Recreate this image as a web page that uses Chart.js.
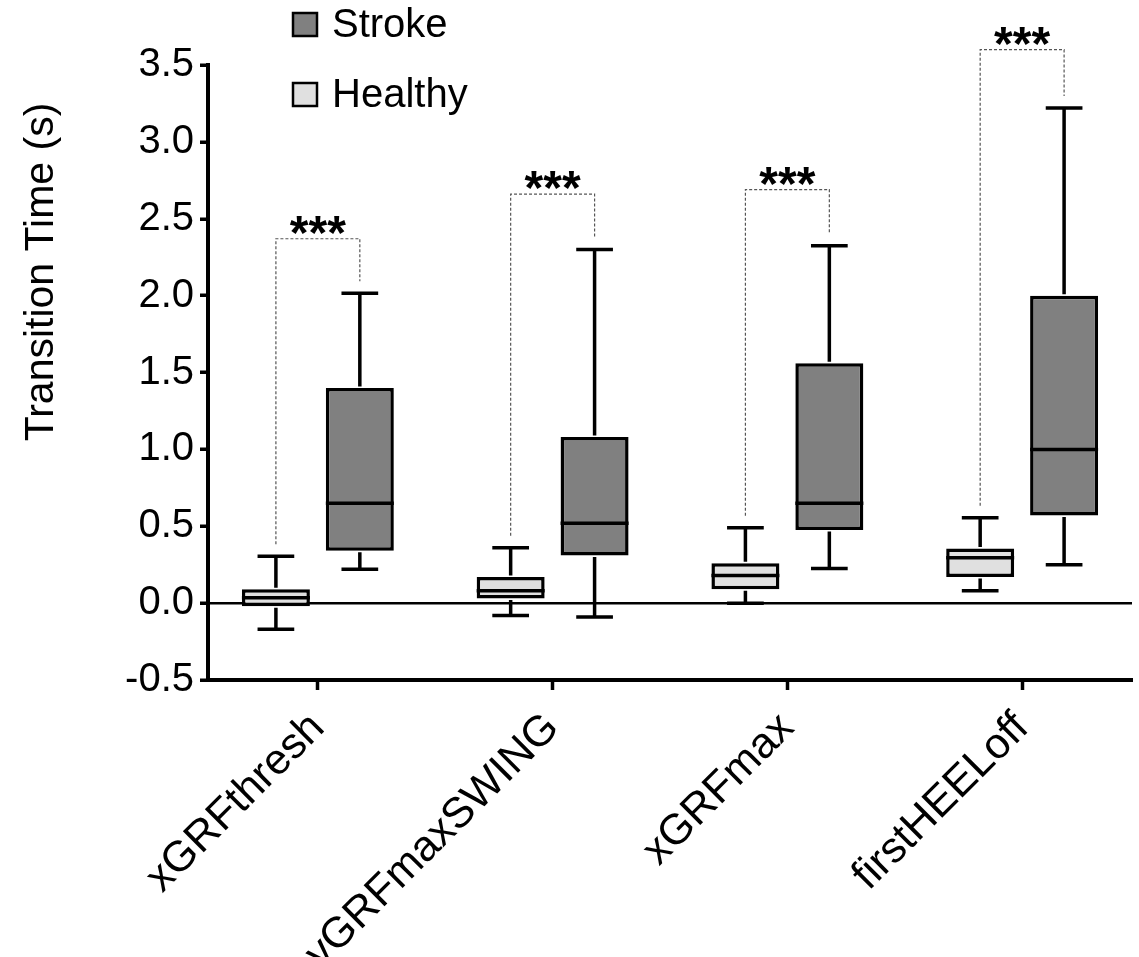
<!DOCTYPE html>
<html>
<head>
<meta charset="utf-8">
<title>Transition Time box plot</title>
<script src="https://cdn.jsdelivr.net/npm/chart.js@4.4.1/dist/chart.umd.min.js"></script>
<style>
  html, body { margin: 0; padding: 0; background: #fff; }
  #wrap { position: relative; width: 1139px; height: 957px; }
</style>
</head>
<body>
<div id="wrap"><canvas id="chart"></canvas></div>
<script>
// categories on the x axis
const categories = ['xGRFthresh', 'vGRFmaxSWING', 'xGRFmax', 'firstHEELoff'];

// Healthy group: whisker ends, quartiles and median (s)
const healthyMin    = [-0.17, -0.08, 0.00, 0.08];
const healthyQ1     = [-0.02,  0.03, 0.09, 0.17];
const healthyMedian = [0.035,  0.08, 0.18, 0.295];
const healthyQ3     = [0.09,   0.17, 0.26, 0.355];
const healthyMax    = [0.305,  0.36, 0.49, 0.555];

// Stroke group
const strokeMin    = [0.22, -0.09, 0.225, 0.25];
const strokeQ1     = [0.34,  0.31, 0.475, 0.57];
const strokeMedian = [0.65,  0.52, 0.65,  1.00];
const strokeQ3     = [1.40,  1.08, 1.56,  2.00];
const strokeMax    = [2.015, 2.30, 2.325, 3.22];

// significance brackets (height of the bracket, label)
const sigTop   = [2.37, 2.66, 2.69, 3.60];
const sigLabel = ['***', '***', '***', '***'];

// y axis ticks
const yMin = -0.5, yMax = 3.5, yStep = 0.5;

const FONT = '"Liberation Sans", Arial, Helvetica, sans-serif';

// whiskers, medians and caps on top of the floating bars
const boxPlot = {
  id: 'boxPlot',
  afterDatasetsDraw(chart) {
    const { ctx } = chart;
    const y = chart.scales.y;
    chart.data.datasets.forEach((ds, di) => {
      const meta = chart.getDatasetMeta(di);
      meta.data.forEach((bar, i) => {
        const half = bar.width / 2;
        const cap = bar.width * 0.27;
        const pMin = y.getPixelForValue(ds.lo[i]);
        const pMax = y.getPixelForValue(ds.hi[i]);
        const pQ1 = y.getPixelForValue(ds.data[i].y[0]);
        const pQ3 = y.getPixelForValue(ds.data[i].y[1]);
        const pMed = y.getPixelForValue(ds.med[i]);
        ctx.save();
        ctx.strokeStyle = '#000';
        ctx.lineWidth = 3.5;
        ctx.lineCap = 'butt';
        ctx.beginPath();
        // upper whisker
        ctx.moveTo(bar.x, pQ3 - 1.5);
        ctx.lineTo(bar.x, pMax);
        ctx.moveTo(bar.x - cap, pMax);
        ctx.lineTo(bar.x + cap, pMax);
        // lower whisker
        ctx.moveTo(bar.x, pQ1 + 1.5);
        ctx.lineTo(bar.x, pMin);
        ctx.moveTo(bar.x - cap, pMin);
        ctx.lineTo(bar.x + cap, pMin);
        // median
        ctx.moveTo(bar.x - half, pMed);
        ctx.lineTo(bar.x + half, pMed);
        ctx.stroke();
        ctx.restore();
      });
    });
  },
  afterDraw(chart) {
    const { ctx } = chart;
    const y = chart.scales.y;
    const healthy = chart.getDatasetMeta(0).data;
    const stroke = chart.getDatasetMeta(1).data;
    const gap = 12;

    // dashed significance brackets and stars
    categories.forEach((c, i) => {
      const xl = healthy[i].x, xr = stroke[i].x;
      const top = y.getPixelForValue(sigTop[i]);
      const bl = y.getPixelForValue(healthyMax[i]) - gap;
      const br = y.getPixelForValue(strokeMax[i]) - gap;
      ctx.save();
      ctx.strokeStyle = '#555';
      ctx.lineWidth = 1.2;
      ctx.setLineDash([3, 2]);
      ctx.beginPath();
      ctx.moveTo(xl, bl);
      ctx.lineTo(xl, top);
      ctx.lineTo(xr, top);
      ctx.lineTo(xr, br);
      ctx.stroke();
      ctx.setLineDash([]);
      ctx.fillStyle = '#000';
      ctx.font = 'bold 48px ' + FONT;
      ctx.textAlign = 'center';
      ctx.textBaseline = 'alphabetic';
      ctx.fillText(sigLabel[i], (xl + xr) / 2, top + 10);
      ctx.restore();
    });

    // y axis title
    ctx.save();
    ctx.translate(53, 272);
    ctx.rotate(-Math.PI / 2);
    ctx.fillStyle = '#000';
    ctx.font = '41px ' + FONT;
    ctx.textAlign = 'center';
    ctx.textBaseline = 'alphabetic';
    ctx.fillText('Transition Time (s)', 0, 0);
    ctx.restore();

    // legend: Stroke above Healthy
    const items = [chart.data.datasets[1], chart.data.datasets[0]];
    items.forEach((ds, k) => {
      const top = 13 + k * 70;
      ctx.save();
      ctx.fillStyle = ds.backgroundColor;
      ctx.fillRect(293, top, 24, 23);
      ctx.strokeStyle = '#000';
      ctx.lineWidth = 2.5;
      ctx.strokeRect(293, top, 24, 23);
      ctx.fillStyle = '#000';
      ctx.font = '40px ' + FONT;
      ctx.textAlign = 'left';
      ctx.textBaseline = 'alphabetic';
      ctx.fillText(ds.label, 332, top + 24);
      ctx.restore();
    });
  }
};

const healthyData = categories.map((c, i) => ({ x: i, y: [healthyQ1[i], healthyQ3[i]] }));
const strokeData = categories.map((c, i) => ({ x: i, y: [strokeQ1[i], strokeQ3[i]] }));

new Chart(document.getElementById('chart').getContext('2d'), {
  type: 'bar',
  data: {
    datasets: [
      {
        label: 'Healthy',
        data: healthyData,
        lo: healthyMin, med: healthyMedian, hi: healthyMax,
        backgroundColor: '#e0e0e0',
        borderColor: '#000',
        borderWidth: 3.5,
        borderSkipped: false,
        categoryPercentage: 0.715,
        barPercentage: 0.81
      },
      {
        label: 'Stroke',
        data: strokeData,
        lo: strokeMin, med: strokeMedian, hi: strokeMax,
        backgroundColor: '#808080',
        borderColor: '#000',
        borderWidth: 3.5,
        borderSkipped: false,
        categoryPercentage: 0.715,
        barPercentage: 0.81
      }
    ]
  },
  options: {
    responsive: true,
    maintainAspectRatio: false,
    animation: false,
    layout: { padding: { top: 65, right: 7, left: 10, bottom: 0 } },
    plugins: {
      legend: { display: false },
      tooltip: { enabled: false }
    },
    scales: {
      x: {
        type: 'linear',
        offset: false,
        min: -0.468,
        max: 3.468,
        afterFit(scale) { scale.height = 277; },
        ticks: {
          stepSize: 1,
          includeBounds: false,
          autoSkip: false,
          maxRotation: 45,
          minRotation: 45,
          padding: 13,
          color: '#000',
          font: { family: FONT, size: 43 },
          callback: (v) => (Number.isInteger(v) && categories[v] !== undefined) ? categories[v] : ''
        },
        grid: {
          offset: false,
          drawOnChartArea: false,
          drawTicks: true,
          tickLength: 10,
          tickWidth: 3.5,
          tickColor: '#000'
        },
        border: { display: true, color: '#000', width: 4 }
      },
      y: {
        min: yMin,
        max: yMax,
        afterFit(scale) { scale.width = 198; },
        ticks: {
          stepSize: yStep,
          padding: 6,
          color: '#000',
          font: { family: FONT, size: 40 },
          callback: (v) => v.toFixed(1)
        },
        grid: {
          drawOnChartArea: true,
          color: (c) => (c.tick && c.tick.value === 0 ? '#000' : 'rgba(0,0,0,0)'),
          lineWidth: 2.5,
          drawTicks: true,
          tickLength: 8,
          tickWidth: 3.5,
          tickColor: '#000'
        },
        border: { display: true, color: '#000', width: 4 }
      }
    }
  },
  plugins: [boxPlot]
});
</script>
</body>
</html>
